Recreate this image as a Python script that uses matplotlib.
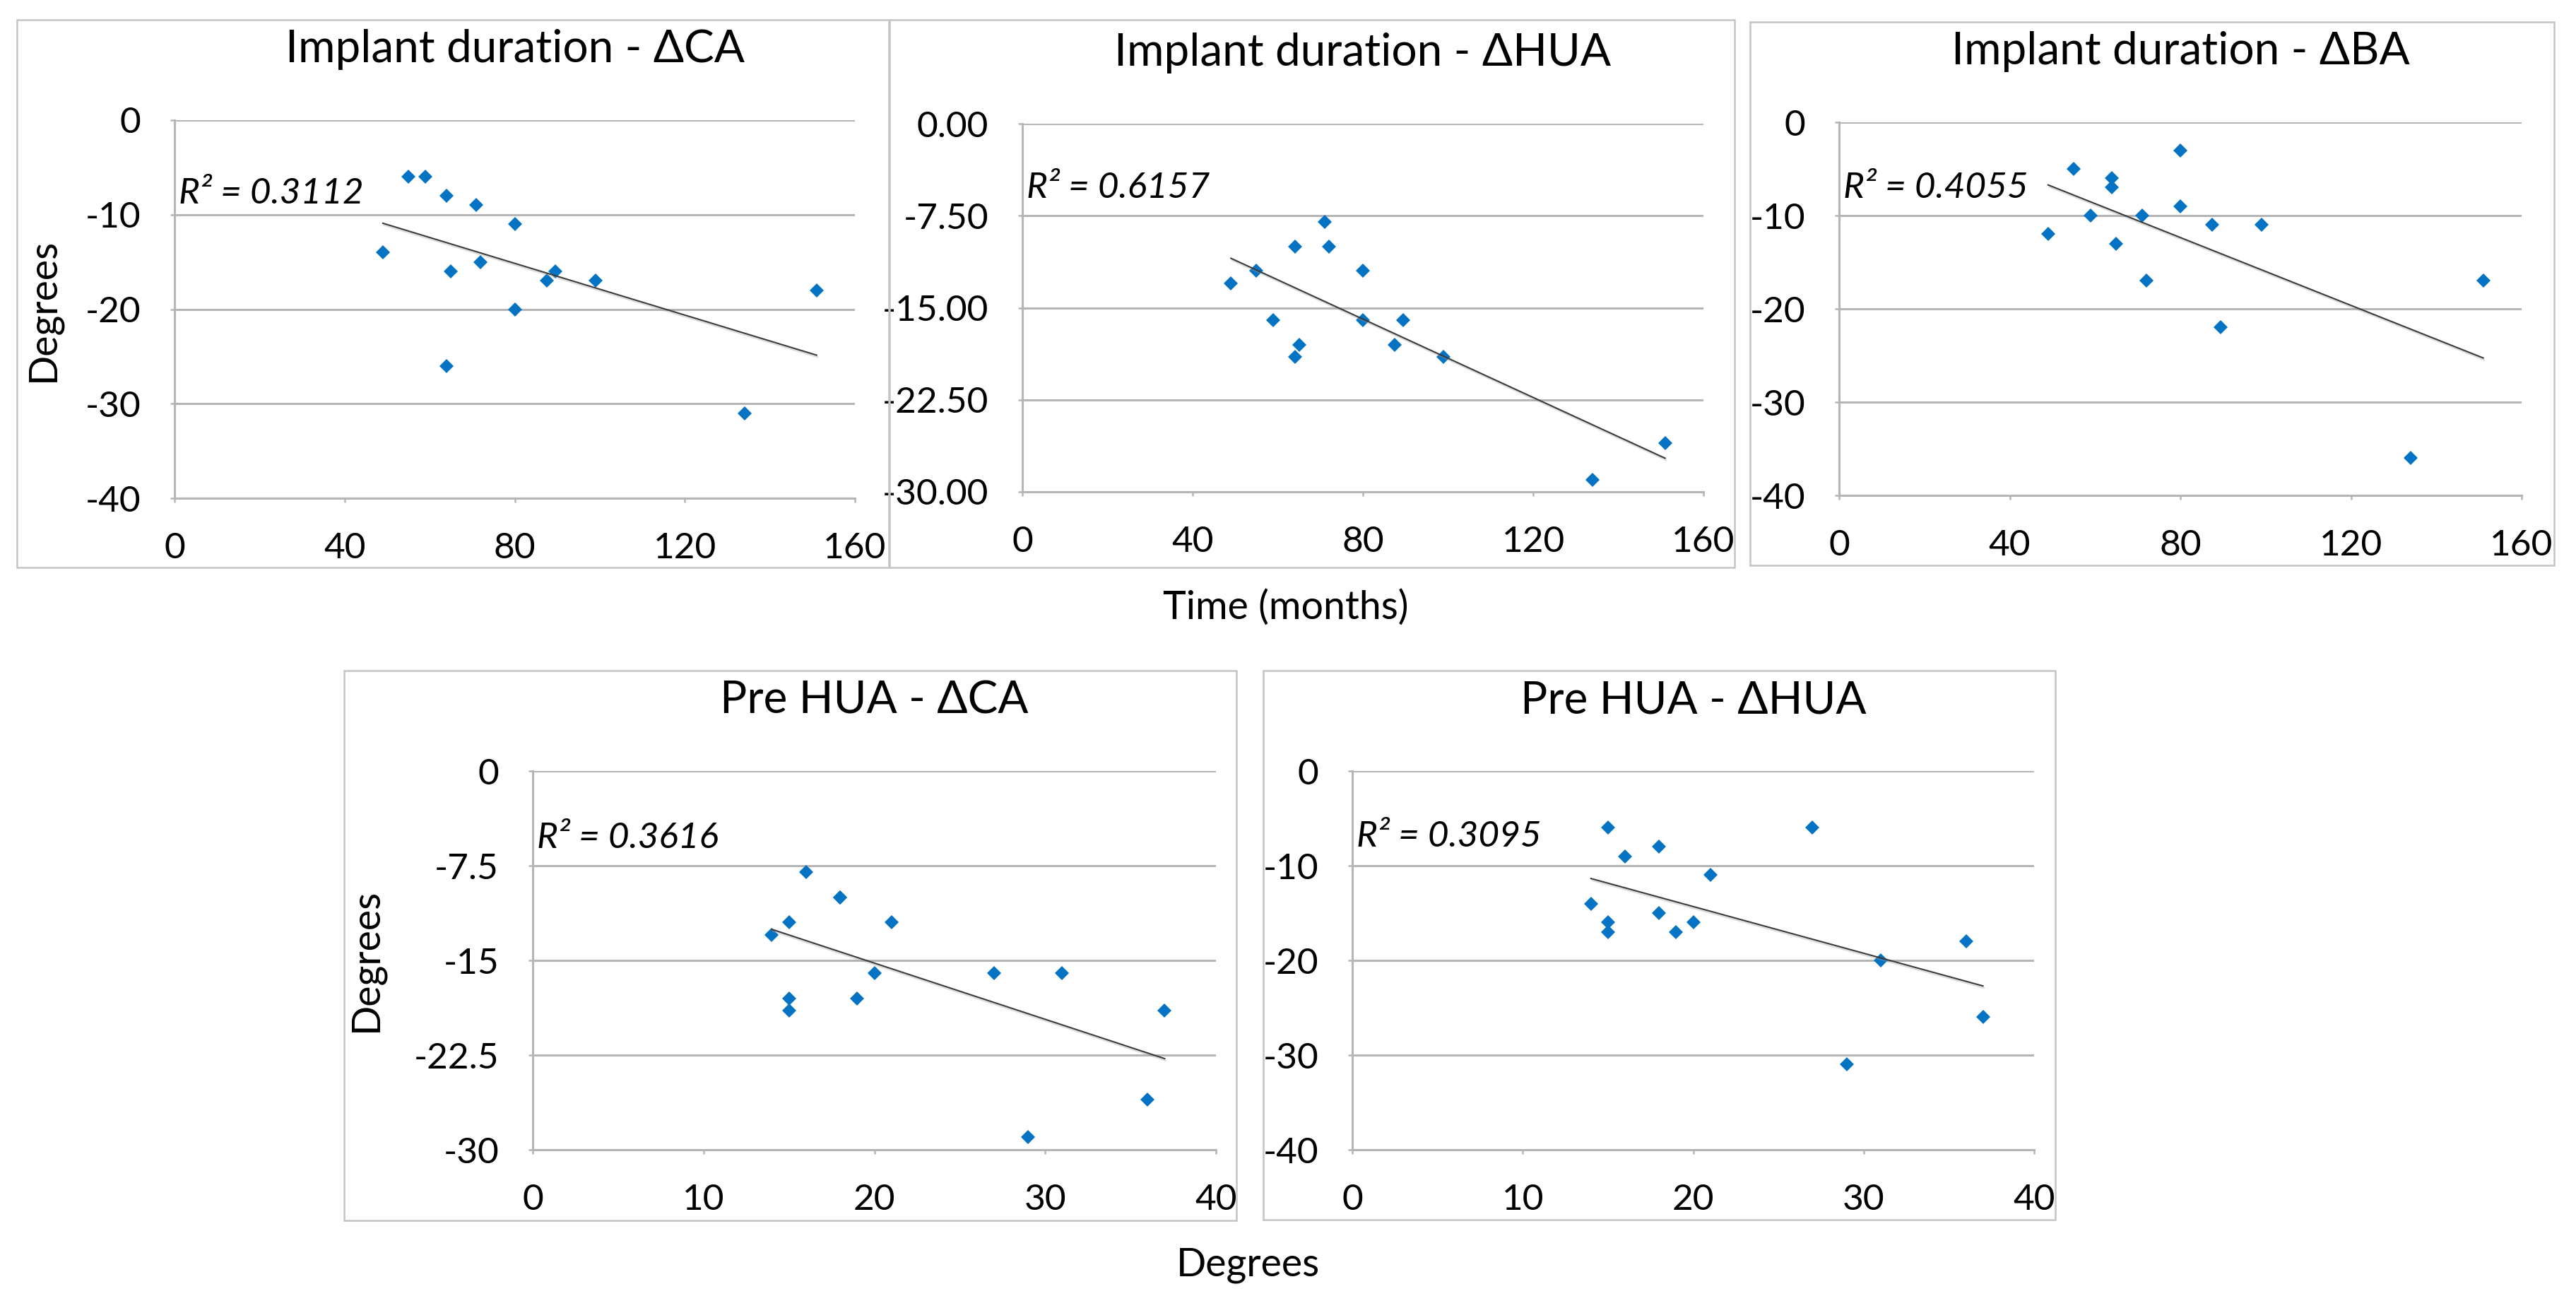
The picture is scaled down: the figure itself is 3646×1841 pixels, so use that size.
import matplotlib
matplotlib.use('Agg')
import matplotlib.pyplot as plt
from matplotlib.patches import Rectangle
import matplotlib.patheffects as pe
import numpy as np

plt.rcParams['font.family'] = ['Lato', 'DejaVu Sans']

# ---- data ----
months = [49, 55, 59, 64, 65, 64, 71, 72, 80, 80, 87.5, 89.5, 99, 134, 151]
d_ca_time = [-14, -6, -6, -8, -16, -26, -9, -15, -11, -20, -17, -16, -17, -31, -18]

months_hua = [49, 55, 59, 64, 64, 65, 71, 72, 80, 80, 87.5, 89.5, 99, 134, 151]
d_hua_time = [-13, -12, -16, -10, -19, -18, -8, -10, -12, -16, -18, -16, -19, -29, -26]

months_ba = [49, 55, 59, 64, 64, 65, 71, 72, 80, 80, 87.5, 89.5, 99, 134, 151]
d_ba_time = [-12, -5, -10, -6, -7, -13, -10, -17, -3, -9, -11, -22, -11, -36, -17]

pre_hua_a = [14, 15, 15, 15, 16, 18, 18, 19, 20, 21, 27, 29, 31, 36, 37]
d_ca_pre = [-13, -12, -18, -19, -8, -10, -10, -18, -16, -12, -16, -29, -16, -26, -19]

pre_hua_b = [14, 15, 15, 15, 16, 18, 18, 19, 20, 21, 27, 29, 31, 36, 37]
d_hua_pre = [-14, -6, -16, -17, -9, -8, -15, -17, -16, -11, -6, -31, -20, -18, -26]

titles = ['Implant duration - \u0394CA', 'Implant duration - \u0394HUA', 'Implant duration - \u0394BA',
          'Pre HUA - \u0394CA', 'Pre HUA - \u0394HUA']
r2_labels = ['R\u00b2 = 0.3112', 'R\u00b2 = 0.6157', 'R\u00b2 = 0.4055', 'R\u00b2 = 0.3616', 'R\u00b2 = 0.3095']

xticks_time = [0, 40, 80, 120, 160]
xticks_pre = [0, 10, 20, 30, 40]
yticks_40 = [0, -10, -20, -30, -40]
ylabels_40 = ['0', '-10', '-20', '-30', '-40']
yticks_30 = [0, -7.5, -15, -22.5, -30]
ylabels_30_2dp = ['0.00', '-7.50', '-15.00', '-22.50', '-30.00']
ylabels_30_1dp = ['0', '-7.5', '-15', '-22.5', '-30']

# ---- layout (pixels on a 3646 x 1841 canvas) ----
W, H = 3646, 1841
fig = plt.figure(figsize=(W / 100, H / 100), dpi=100)

def fbox(x0, x1, y0, y1):
    return [x0 / W, 1 - y1 / H, (x1 - x0) / W, (y1 - y0) / H]

panels = [
    dict(ax=fbox(247, 1210, 170, 705), frame=(24, 1259, 28, 803), x=months, y=d_ca_time,
         xt=xticks_time, yt=yticks_40, yl=ylabels_40, r2y=0.806),
    dict(ax=fbox(1447, 2411, 175, 696), frame=(1258, 2455, 28, 803), x=months_hua, y=d_hua_time,
         xt=xticks_time, yt=yticks_30, yl=ylabels_30_2dp, r2y=0.825),
    dict(ax=fbox(2603, 3569, 173, 701), frame=(2477, 3615, 31, 800), x=months_ba, y=d_ba_time,
         xt=xticks_time, yt=yticks_40, yl=ylabels_40, r2y=0.824),
    dict(ax=fbox(754, 1721, 1091, 1627), frame=(487, 1750, 949, 1727), x=pre_hua_a, y=d_ca_pre,
         xt=xticks_pre, yt=yticks_30, yl=ylabels_30_1dp, r2y=0.823),
    dict(ax=fbox(1914, 2879, 1091, 1627), frame=(1788, 2909, 949, 1726), x=pre_hua_b, y=d_hua_pre,
         xt=xticks_pre, yt=yticks_40, yl=ylabels_40, r2y=0.827),
]

grid_clr = '#b5b5b5'
dot_clr = '#0573c4'

# panel frames first so they sit underneath
for p in panels:
    x0, x1, y0, y1 = p['frame']
    fig.patches.append(Rectangle((x0 / W, 1 - y1 / H), (x1 - x0) / W, (y1 - y0) / H,
                                 transform=fig.transFigure, fill=False,
                                 edgecolor='#c4c4c4', linewidth=1.8, zorder=0))

for i, p in enumerate(panels):
    ax = fig.add_axes(p['ax'])
    ax.patch.set_alpha(0)
    x = np.array(p['x'], dtype=float)
    y = np.array(p['y'], dtype=float)

    ax.plot(x, y, linestyle='', marker='D', markersize=10, markeredgewidth=0,
            color=dot_clr, zorder=3)

    # linear trendline
    k, b = np.polyfit(x, y, 1)
    xs = np.array([x.min(), x.max()])
    ax.plot(xs, k * xs + b, color='#3a3a3a', linewidth=1.5, zorder=4,
            path_effects=[pe.SimpleLineShadow(offset=(1, -2), shadow_color='#999999', alpha=0.35),
                          pe.Normal()])

    ax.set_xlim(p['xt'][0], p['xt'][-1])
    ax.set_ylim(p['yt'][-1], p['yt'][0])
    ax.set_xticks(p['xt'])
    ax.set_yticks(p['yt'])
    ax.set_yticklabels(p['yl'])

    ax.yaxis.grid(True, color=grid_clr, linewidth=2.2)
    ax.xaxis.grid(False)
    ax.set_axisbelow(True)
    for s in ['top', 'right']:
        ax.spines[s].set_visible(False)
    for s in ['left', 'bottom']:
        ax.spines[s].set_color(grid_clr)
        ax.spines[s].set_linewidth(2.2)
    ax.tick_params(axis='both', direction='out', length=4.5, width=1.8, color=grid_clr,
                   labelsize=37, pad=30, labelcolor='black')

    ax.annotate(titles[i], xy=(0.5, 1), xycoords='axes fraction', xytext=(0, 59),
                textcoords='offset points', ha='center', va='baseline', fontsize=46)
    ax.text(0.006, p['r2y'], r2_labels[i], transform=ax.transAxes, ha='left', va='center',
            fontsize=37, fontstyle='italic')

# axis titles
fig.text(61 / W, 1 - 438 / H, 'Degrees', rotation=90, ha='center', va='center', fontsize=40)
fig.text(518 / W, 1 - 1358 / H, 'Degrees', rotation=90, ha='center', va='center', fontsize=40)
fig.text(1820 / W, 1 - 860 / H, 'Time (months)', ha='center', va='center', fontsize=40)
fig.text(1766 / W, 1 - 1790 / H, 'Degrees', ha='center', va='center', fontsize=40)

fig.savefig('out.png', dpi=100, facecolor='white')
